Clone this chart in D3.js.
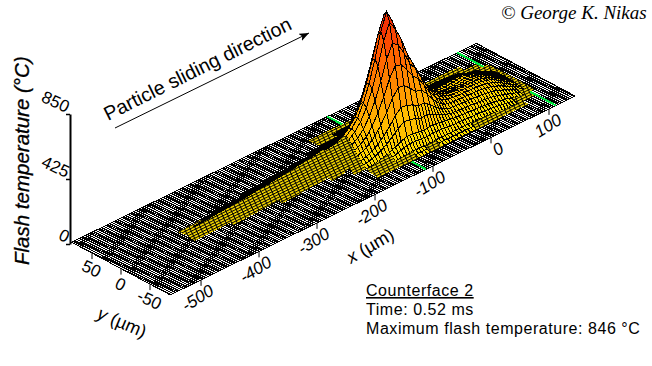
<!DOCTYPE html>
<html>
<head>
<meta charset="utf-8">
<script src="https://cdnjs.cloudflare.com/ajax/libs/d3/7.8.5/d3.min.js"></script>
<style>
body { margin: 0; background: #fff; }
text { font-family: "Liberation Sans", Arial, sans-serif; fill: #000; }
</style>
</head>
<body>
<div id="chart"></div>
<script>
// tick labels
var xTicks = [-500, -400, -300, -200, -100, 0, 100];
var yTicks = [50, 0, -50];
var zTicks = [0, 425, 850];
var xExtent = [-553, 145];
var yExtent = [-85, 85];

// counterface edges (green marks on the plate), [x, y from, y to]
var counterfaceMarks = [[-112, 85, 50], [-112, -85, -50], [112, 85, 35], [112, -85, -28]];

// flash temperature, one list per x position, same order as surfaceY
var surfaceX = [-440, -420, -400, -380, -360, -340, -320, -300, -280, -260, -240, -220, -200,
  -190, -180, -170, -160, -150, -140, -130, -120, -110, -100, -90, -80, -70, -60, -50, -40, -30, -20, -10,
  0, 10, 20, 30, 40, 50, 60, 70, 80, 90, 100, 110, 120];
var surfaceY = [60, 50, 40, 30, 25, 20, 15, 10, 5, 0, -5, -10, -15, -20, -25, -30, -40, -50, -60];
var temperature = [
  [0,0,0,0,0,0,0,1,4,6,5,2,0,0,0,0,0,0,0],
  [0,0,0,0,0,0,1,6,13,16,14,8,2,0,0,0,0,0,0],
  [0,0,0,0,0,1,5,13,22,26,24,15,6,1,0,0,0,0,0],
  [0,0,0,0,0,3,9,19,28,32,29,20,10,3,0,0,0,0,0],
  [0,0,0,0,1,5,13,24,34,38,35,25,14,5,1,0,0,0,0],
  [0,0,0,0,2,8,18,30,40,44,41,31,19,9,2,0,0,0,0],
  [0,0,0,1,4,11,23,37,48,52,49,38,24,12,4,1,0,0,0],
  [0,0,0,2,6,15,29,44,56,60,57,45,30,16,6,2,0,0,0],
  [0,0,0,3,9,20,35,51,64,68,65,52,36,21,9,3,0,0,0],
  [0,0,0,5,13,26,42,60,73,78,74,61,43,27,13,5,0,0,0],
  [0,0,1,8,18,33,51,69,83,88,84,70,52,34,18,8,1,0,0],
  [0,0,2,12,24,41,60,80,94,100,95,81,61,42,25,12,2,0,0],
  [0,0,3,17,31,50,71,92,108,115,110,94,73,52,32,17,3,0,0],
  [0,1,6,20,33,48,65,85,105,120,125,116,98,78,58,40,15,4,0],
  [0,1,7,22,35,51,70,92,113,130,135,126,105,84,62,43,16,4,0],
  [0,2,8,26,42,61,83,109,134,154,160,149,125,99,74,51,19,5,0],
  [0,2,10,31,51,74,101,133,164,187,195,181,152,121,90,62,23,6,0],
  [0,2,12,39,64,93,127,167,206,235,245,228,191,152,113,78,29,7,0],
  [0,3,16,52,85,124,169,221,273,312,325,302,254,202,150,104,39,10,0],
  [0,4,22,70,113,165,226,296,365,418,435,405,339,270,200,139,52,13,0],
  [0,6,29,92,150,219,299,391,483,552,575,535,449,357,265,184,69,17,0],
  [0,7,37,118,191,279,382,500,617,706,735,684,573,456,338,235,88,22,0],
  [0,8,42,135,220,321,440,575,711,812,846,787,660,525,389,271,102,25,0],
  [0,8,38,122,199,291,398,520,643,734,765,725,630,510,385,265,98,24,0],
  [0,7,33,104,169,247,338,442,546,624,655,640,560,460,350,250,95,24,0],
  [0,5,27,86,139,203,278,364,449,514,545,530,470,400,310,225,85,22,0],
  [0,8,35,85,130,180,240,305,375,420,450,445,420,365,300,225,95,25,0],
  [0,10,40,85,120,155,200,250,305,340,370,365,340,300,255,195,90,25,1],
  [0,12,42,80,105,135,165,200,240,270,290,285,265,235,200,160,85,24,1],
  [0,14,44,75,92,115,135,160,185,210,225,220,205,185,160,130,78,25,1],
  [0,14,44,70,84,100,115,130,150,170,180,175,165,150,130,112,70,25,1],
  [0,14,44,70,82,94,106,118,130,145,155,155,148,138,125,108,68,25,1],
  [0,14,44,72,84,96,104,110,118,128,135,138,135,130,120,105,65,24,1],
  [0,14,44,72,84,96,106,108,112,120,128,132,132,128,118,102,62,22,0],
  [0,14,44,72,85,98,108,110,110,118,125,130,130,126,116,100,60,20,0],
  [0,14,42,72,86,100,110,114,114,118,125,130,130,125,115,98,56,18,0],
  [0,12,40,70,86,100,112,120,120,124,128,130,128,122,112,94,52,15,0],
  [0,10,36,66,82,98,112,122,126,128,130,130,125,118,106,88,46,10,0],
  [0,6,30,60,76,92,106,116,122,124,125,122,118,110,98,80,38,6,0],
  [0,3,22,50,66,82,96,104,108,110,110,108,104,96,84,66,28,3,0],
  [0,1,14,38,52,66,78,84,88,90,90,88,84,76,66,50,18,1,0],
  [0,0,6,24,36,46,56,62,65,66,66,64,60,54,44,32,8,0,0],
  [0,0,2,12,20,28,34,38,40,42,42,40,36,30,24,14,2,0,0],
  [0,0,0,3,7,11,14,16,18,18,18,16,14,11,7,3,0,0,0],
  [0,0,0,0,0,1,2,3,4,4,4,3,2,1,0,0,0,0,0]
];

var colourStops = [0, 150, 400, 620, 846];
var colourRange = ['#ffe400', '#ffc400', '#ff8c00', '#ff5a00', '#ee1c08'];

var width = 652, height = 366;

var svg = d3.select('#chart').append('svg')
  .attr('width', width)
  .attr('height', height)
  .style('display', 'block');

// oblique projection, each data axis gets a scale for its share of the screen position
var xToLeft = d3.scaleLinear().domain(xExtent).range([-320.7, 84.1]);
var xToTop = d3.scaleLinear().domain(xExtent).range([157.6, -41.3]);
var yToLeft = d3.scaleLinear().domain(yExtent).range([49.3, -49.3]);
var yToTop = d3.scaleLinear().domain(yExtent).range([26.35, -26.35]);
var zScale = d3.scaleLinear().domain([0, 850]).range([244, 114]);

function project(x, y, z) {
  return [441.7 + xToLeft(x) + yToLeft(y), 111 + xToTop(x) + yToTop(y) + zScale(z) - 244];
}

var line3d = d3.line();
var defs = svg.append('defs');

// dense mesh on the low tail, too fine for the cells to carry
var tailMesh = defs.append('pattern')
  .attr('id', 'tailMesh')
  .attr('width', 5)
  .attr('height', 2.6)
  .attr('patternUnits', 'userSpaceOnUse')
  .attr('patternTransform', 'rotate(-26)');
tailMesh.append('rect').attr('width', 5).attr('height', 2.6).attr('fill', '#ffe000');
tailMesh.append('rect').attr('width', 5).attr('height', 1).attr('fill', '#000');
tailMesh.append('rect').attr('width', 1).attr('height', 2.6).attr('fill', '#000');

// plate
var plate = svg.append('g').attr('shape-rendering', 'crispEdges');
plate.append('path')
  .attr('d', line3d([project(xExtent[0], yExtent[0], 0), project(xExtent[1], yExtent[0], 0),
    project(xExtent[1], yExtent[1], 0), project(xExtent[0], yExtent[1], 0)]) + 'Z')
  .attr('fill', '#fff')
  .attr('stroke', '#000');

plate.selectAll('.rowline')
  .data(d3.range(yExtent[0], yExtent[1] + 0.1, 3.4))
  .join('path')
  .attr('class', 'rowline')
  .attr('d', function(y) { return line3d([project(xExtent[0], y, 0), project(xExtent[1], y, 0)]); })
  .attr('stroke', '#000')
  .attr('fill', 'none');

plate.selectAll('.colline')
  .data(d3.range(xExtent[0], xExtent[1] + 0.1, 4.65))
  .join('path')
  .attr('class', 'colline')
  .attr('d', function(x) { return line3d([project(x, yExtent[0], 0), project(x, yExtent[1], 0)]); })
  .attr('stroke', '#000')
  .attr('fill', 'none');

plate.selectAll('.mark')
  .data(counterfaceMarks)
  .join('path')
  .attr('class', 'mark')
  .attr('d', function(d) { return line3d([project(d[0], d[1], 0), project(d[0], d[2], 0)]); })
  .attr('stroke', '#00e840')
  .attr('stroke-width', 2)
  .attr('fill', 'none');

// surface cells, painted from the far corner to the near one
var colour = d3.scaleLinear().domain(colourStops).range(colourRange);
var cells = [];
for (var i = surfaceX.length - 2; i >= 0; i--) {
  for (var j = 0; j < surfaceY.length - 1; j++) {
    var corners = [[i, j], [i + 1, j], [i + 1, j + 1], [i, j + 1]];
    var temps = corners.map(function(c) { return temperature[c[0]][c[1]]; });
    if (d3.max(temps) == 0) continue;
    var mean = d3.mean(temps);
    var isTail = surfaceX[i] < -170;
    var rise = (temps[3] + temps[2] - temps[0] - temps[1]) / 2;
    var rowGap = surfaceY[j] - surfaceY[j + 1];
    var slope = (zScale(0) - zScale(rise)) / (rowGap * 0.594);
    var thin = isTail || mean < 12 || (surfaceX[i] < -130 && mean < 35);
    // the far slope folds up on screen, the mesh lines there merge to black
    var folded = thin ? slope > 0.35 : (slope > 0.5 && mean < 250);
    // the tail's low flanks are lost in the plate grid
    if (isTail && !folded && mean < 0.2 * d3.max(temperature[i])) continue;
    cells.push({
      pts: corners.map(function(c) { return project(surfaceX[c[0]], surfaceY[c[1]], temperature[c[0]][c[1]]); }),
      t: mean,
      folded: folded,
      thin: thin,
      rowGap: rowGap
    });
  }
}

function middle(a, b) { return [(a[0] + b[0]) / 2, (a[1] + b[1]) / 2]; }

svg.append('g')
  .attr('shape-rendering', 'crispEdges')
  .selectAll('path')
  .data(cells)
  .join('path')
  .attr('d', function(d) {
    var outline = line3d(d.pts) + 'Z';
    if (d.thin) return outline;
    // extra mesh lines, the drawn grid is finer than the read one
    if (d.t < 170) {
      outline += line3d([middle(d.pts[0], d.pts[1]), middle(d.pts[3], d.pts[2])]);
    }
    if (d.rowGap > 5) {
      outline += line3d([middle(d.pts[0], d.pts[3]), middle(d.pts[1], d.pts[2])]);
    }
    return outline;
  })
  .attr('fill', function(d) {
    if (d.folded) return '#000';
    return d.thin ? 'url(#tailMesh)' : colour(d.t);
  })
  .attr('stroke', function(d) { return d.thin ? 'none' : '#000'; });

// x ticks
svg.selectAll('.xtick')
  .data(xTicks)
  .join('path')
  .attr('class', 'xtick')
  .attr('d', function(d) {
    var p = project(d, yExtent[0], 0);
    return line3d([p, [p[0], p[1] + 6]]);
  })
  .attr('stroke', '#000');
svg.selectAll('.xlabel')
  .data(xTicks)
  .join('text')
  .attr('class', 'xlabel')
  .attr('font-size', 17)
  .attr('font-style', 'italic')
  .attr('text-anchor', 'end')
  .attr('transform', function(d) {
    var p = project(d, yExtent[0], 0);
    return 'translate(' + (p[0] + 14) + ',' + (p[1] + 14) + ') rotate(-32)';
  })
  .text(function(d) { return d; });

// y ticks
svg.selectAll('.ytick')
  .data(yTicks)
  .join('path')
  .attr('class', 'ytick')
  .attr('d', function(d) {
    var p = project(xExtent[0], d, 0);
    return line3d([p, [p[0], p[1] + 6]]);
  })
  .attr('stroke', '#000');
svg.selectAll('.ylabel')
  .data(yTicks)
  .join('text')
  .attr('class', 'ylabel')
  .attr('font-size', 17)
  .attr('text-anchor', 'middle')
  .attr('transform', function(d) {
    var p = project(xExtent[0], d, 0);
    return 'translate(' + (p[0] - 3) + ',' + (p[1] + 21) + ') rotate(25)';
  })
  .text(function(d) { return d; });

// z axis
var zAxis = svg.append('g')
  .attr('transform', 'translate(70,0)')
  .call(d3.axisLeft(zScale).tickValues(zTicks).tickSize(4).tickSizeOuter(0).tickFormat(''));
zAxis.select('.domain').attr('stroke-width', 2);
zAxis.selectAll('line').attr('stroke-width', 1.5);
svg.selectAll('.zlabel')
  .data(zTicks)
  .join('text')
  .attr('class', 'zlabel')
  .attr('font-size', 17)
  .attr('text-anchor', 'end')
  .attr('transform', function(d) { return 'translate(66,' + (zScale(d) - 1) + ') rotate(25)'; })
  .text(function(d) { return d; });

// axis titles
svg.append('text')
  .attr('transform', 'translate(29,265) rotate(-90)')
  .attr('font-size', 20.5)
  .attr('font-style', 'italic')
  .attr('stroke', '#000')
  .attr('stroke-width', 0.3)
  .text('Flash temperature (°C)');

var xTitle = svg.append('text')
  .attr('transform', 'translate(351,264) rotate(-30)')
  .attr('font-size', 18);
xTitle.append('tspan').attr('font-style', 'italic').text('x');
xTitle.append('tspan').text(' (µm)');

var yTitle = svg.append('text')
  .attr('transform', 'translate(96,318) rotate(23)')
  .attr('font-size', 18);
yTitle.append('tspan').attr('font-style', 'italic').text('y');
yTitle.append('tspan').text(' (µm)');

// sliding direction
defs.append('marker')
  .attr('id', 'head')
  .attr('viewBox', '0 0 10 8')
  .attr('refX', 10)
  .attr('refY', 4)
  .attr('markerWidth', 10)
  .attr('markerHeight', 8)
  .attr('markerUnits', 'userSpaceOnUse')
  .attr('orient', 'auto')
  .append('path')
  .attr('d', 'M0,0L10,4L0,8L2.5,4Z')
  .attr('fill', '#000');
svg.append('line')
  .attr('x1', 115).attr('y1', 128)
  .attr('x2', 309).attr('y2', 33)
  .attr('stroke', '#000')
  .attr('marker-end', 'url(#head)');
svg.append('text')
  .attr('transform', 'translate(108,121) rotate(-26.5)')
  .attr('font-size', 19.7)
  .text('Particle sliding direction');

// notes
var noteLines = ['Counterface 2', 'Time: 0.52 ms', 'Maximum flash temperature: 846 °C'];
svg.selectAll('.note')
  .data(noteLines)
  .join('text')
  .attr('class', 'note')
  .attr('x', 366)
  .attr('y', function(d, i) { return 296 + i * 19; })
  .attr('font-size', 16)
  .attr('letter-spacing', 0.55)
  .attr('text-decoration', function(d, i) { return i == 0 ? 'underline' : 'none'; })
  .text(function(d) { return d; });

svg.append('text')
  .attr('x', 501).attr('y', 19)
  .attr('font-size', 19)
  .attr('font-style', 'italic')
  .style('font-family', '"Liberation Serif", serif')
  .text('© George K. Nikas');
</script>
</body>
</html>
